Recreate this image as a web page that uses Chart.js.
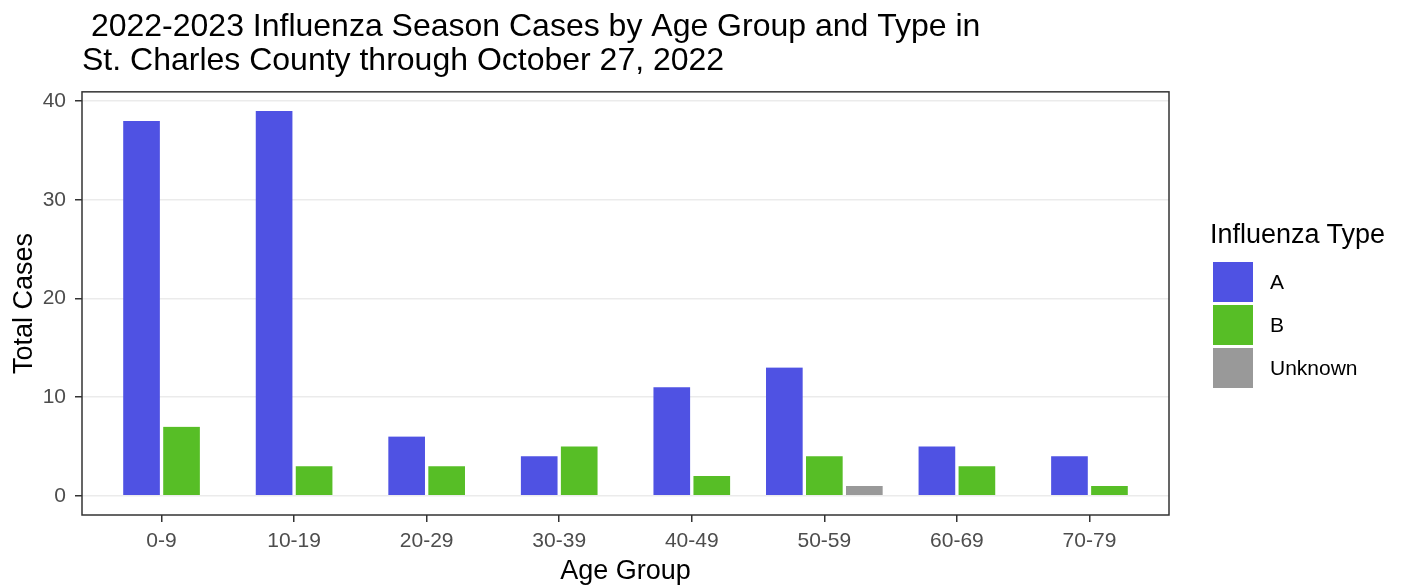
<!DOCTYPE html>
<html lang="en">
<head>
    <meta charset="UTF-8" />
    <title>Influenza Season Cases by Age Group</title>
    <script src="https://cdn.jsdelivr.net/npm/chart.js"></script>
    <style>
        body {
            margin: 0;
            background: white;
            font-family: "Liberation Sans", Arial, sans-serif;
        }
        #wrap {
            position: relative;
            width: 1406px;
            height: 586px;
        }
        #legend {
            position: absolute;
            left: 1210px;
            top: 218px;
        }
        #legend .title {
            font-size: 27px;
            color: black;
            margin-bottom: 10px;
            line-height: 32px;
        }
        #legend .item {
            display: flex;
            align-items: center;
            height: 43px;
        }
        #legend .swatch {
            width: 40px;
            height: 40px;
            margin-left: 3px;
            margin-right: 17px;
        }
        #legend .label {
            font-size: 21px;
            color: black;
        }
    </style>
</head>
<body>
    <div id="wrap">
        <canvas id="fluChart" width="1406" height="586"></canvas>
        <div id="legend"></div>
    </div>

    <script>
        const ageGroups = ["0-9", "10-19", "20-29", "30-39", "40-49", "50-59", "60-69", "70-79"];
        const typeA = [38, 39, 6, 4, 11, 13, 5, 4];
        const typeB = [7, 3, 3, 5, 2, 4, 3, 1];
        const typeUnknown = [null, null, null, null, null, 1, null, null];
        const yTicks = [0, 10, 20, 30, 40];

        const seriesNames = ["A", "B", "Unknown"];
        const seriesColors = ["#4f52e3", "#57be26", "#999999"];
        const seriesValues = [typeA, typeB, typeUnknown];

        const datasets = seriesNames.map((name, s) => ({
            label: name,
            data: seriesValues[s].map((v, i) => ({x: i, y: v})),
            backgroundColor: seriesColors[s],
            borderColor: 'rgba(0,0,0,0)',
            borderWidth: {left: 2, right: 2, top: 0, bottom: 0},
            borderSkipped: false,
            barThickness: 40,
            skipNull: true
        }));

        // panel border all the way round, like theme_bw
        const panelBorder = {
            id: 'panelBorder',
            afterDatasetsDraw(chart) {
                const {ctx, chartArea: a} = chart;
                ctx.save();
                ctx.strokeStyle = '#333333';
                ctx.lineWidth = 1.5;
                ctx.strokeRect(a.left, a.top, a.right - a.left, a.bottom - a.top);
                ctx.restore();
            }
        };

        const ctx = document.getElementById('fluChart').getContext('2d');
        new Chart(ctx, {
            type: 'bar',
            data: { datasets: datasets },
            plugins: [panelBorder],
            options: {
                responsive: false,
                animation: false,
                layout: { padding: { left: 0, right: 237, top: 0, bottom: 0 } },
                plugins: {
                    legend: { display: false },
                    tooltip: { enabled: false },
                    title: {
                        display: true,
                        text: [" 2022-2023 Influenza Season Cases by Age Group and Type in", "St. Charles County through October 27, 2022"],
                        align: 'start',
                        fullSize: false,
                        color: 'black',
                        font: { family: "Liberation Sans", size: 32, weight: 'normal', lineHeight: 1.06 },
                        padding: { top: 10, bottom: 14 }
                    }
                },
                scales: {
                    x: {
                        type: 'linear',
                        offset: false,
                        min: -0.6,
                        max: 7.6,
                        afterBuildTicks: s => { s.ticks = ageGroups.map((_, i) => ({value: i})); },
                        afterFit: s => { s.height = 71; },
                        ticks: {
                            callback: v => ageGroups[v],
                            color: '#4d4d4d',
                            font: { family: "Liberation Sans", size: 21 },
                            padding: 7,
                            maxRotation: 0
                        },
                        grid: { offset: false, drawOnChartArea: false, drawTicks: true, tickLength: 7, color: '#333333', lineWidth: 1.5 },
                        border: { display: false },
                        title: {
                            display: true,
                            text: 'Age Group',
                            color: 'black',
                            font: { family: "Liberation Sans", size: 27 },
                            padding: { top: 0, bottom: -2 }
                        }
                    },
                    y: {
                        min: -1.95,
                        max: 40.95,
                        afterBuildTicks: s => { s.ticks = yTicks.map(v => ({value: v})); },
                        afterFit: s => { s.width = 82; },
                        ticks: {
                            color: '#4d4d4d',
                            font: { family: "Liberation Sans", size: 21 },
                            padding: 9
                        },
                        grid: { color: '#ebebeb', lineWidth: 1.5, tickColor: '#333333', tickLength: 7 },
                        border: { display: false },
                        title: {
                            display: true,
                            text: 'Total Cases',
                            color: 'black',
                            font: { family: "Liberation Sans", size: 27 },
                            padding: { top: 8, bottom: 0 }
                        }
                    }
                }
            }
        });

        const legend = document.getElementById('legend');
        legend.innerHTML = '<div class="title">Influenza Type</div>' +
            seriesNames.map((n, s) =>
                `<div class="item"><div class="swatch" style="background:${seriesColors[s]}"></div><div class="label">${n}</div></div>`
            ).join('');
    </script>
</body>
</html>
